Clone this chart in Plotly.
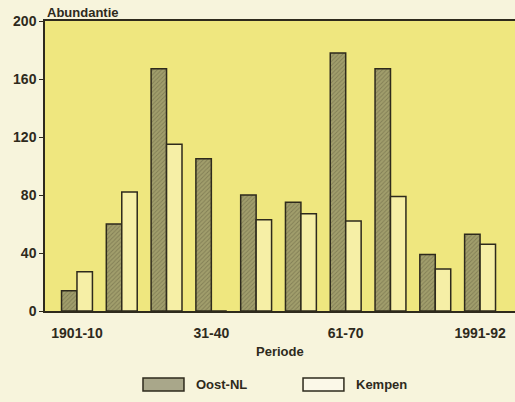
import plotly.graph_objects as go

periods = ["1901-10", "11-20", "21-30", "31-40", "41-50", "51-60", "61-70", "71-80", "81-90", "1991-92"]
oost_nl = [14, 60, 167, 105, 80, 75, 178, 167, 39, 53]
kempen = [27, 82, 115, 0, 63, 67, 62, 79, 29, 46]
tick_periods = ["1901-10", "31-40", "61-70", "1991-92"]
y_ticks = [0, 40, 80, 120, 160, 200]

FONT = "Liberation Sans"
DARK = "#2e2a1c"

fig = go.Figure()
fig.add_trace(go.Bar(
    x=periods, y=oost_nl, name="Oost-NL",
    marker=dict(color="#a19e6c",
                line=dict(color=DARK, width=1.5),
                pattern=dict(shape="/", fgcolor="#625f3e", bgcolor="#a19e6c", size=3, solidity=0.3)),
))
fig.add_trace(go.Bar(
    x=periods, y=kempen, name="Kempen",
    marker=dict(color="#f6efa6", line=dict(color=DARK, width=1.5)),
))

fig.update_layout(
    width=515, height=402,
    margin=dict(l=45, r=0, t=21, b=91),
    paper_bgcolor="#f7f4dc",
    plot_bgcolor="#efe77f",
    barmode="group", bargap=0.31, bargroupgap=0,
    showlegend=False,
    font=dict(family=FONT, size=13, color=DARK),
    xaxis=dict(
        type="category", categoryorder="array", categoryarray=periods,
        range=[-0.714, 9.78],
        tickmode="array", tickvals=tick_periods, ticktext=tick_periods,
        ticks="outside", ticklen=8, tickcolor="rgba(0,0,0,0)",
        showline=True, linecolor=DARK, linewidth=1.5, mirror=True,
        showgrid=False, zeroline=False,
        tickfont=dict(family=FONT, size=14, color=DARK, weight="bold"),
    ),
    yaxis=dict(
        range=[0, 200], tickvals=y_ticks,
        ticks="outside", ticklen=4, tickcolor=DARK,
        showline=True, linecolor=DARK, linewidth=1.5,
        showgrid=False, zeroline=False,
        tickfont=dict(family=FONT, size=14, color=DARK, weight="bold"),
    ),
    annotations=[
        dict(text="<b>Abundantie</b>", xref="paper", yref="paper", x=0, y=1,
             xanchor="left", yanchor="bottom", showarrow=False, yshift=-1,
             font=dict(family=FONT, size=13, color=DARK)),
        dict(text="<b>Periode</b>", xref="paper", yref="paper", x=0.5, y=-0.141,
             xanchor="center", yanchor="middle", showarrow=False,
             font=dict(family=FONT, size=13, color=DARK)),
        dict(text="<b>Oost-NL</b>", xref="paper", yref="paper", x=0.317, y=-0.255,
             xanchor="left", yanchor="middle", showarrow=False,
             font=dict(family=FONT, size=13, color=DARK)),
        dict(text="<b>Kempen</b>", xref="paper", yref="paper", x=0.657, y=-0.255,
             xanchor="left", yanchor="middle", showarrow=False,
             font=dict(family=FONT, size=13, color=DARK)),
    ],
    shapes=[
        dict(type="rect", xref="paper", yref="paper", x0=0.2085, x1=0.2957, y0=-0.2759, y1=-0.231,
             fillcolor="#a9a78a", line=dict(color=DARK, width=1.5)),
        dict(type="rect", xref="paper", yref="paper", x0=0.549, x1=0.636, y0=-0.2759, y1=-0.231,
             fillcolor="#fbf8e8", line=dict(color=DARK, width=1.5)),
    ],
)

fig.write_html(
    "out.html",
    config={"displayModeBar": False},
    post_script="document.body.style.margin='0';document.body.style.overflow='hidden';",
)
